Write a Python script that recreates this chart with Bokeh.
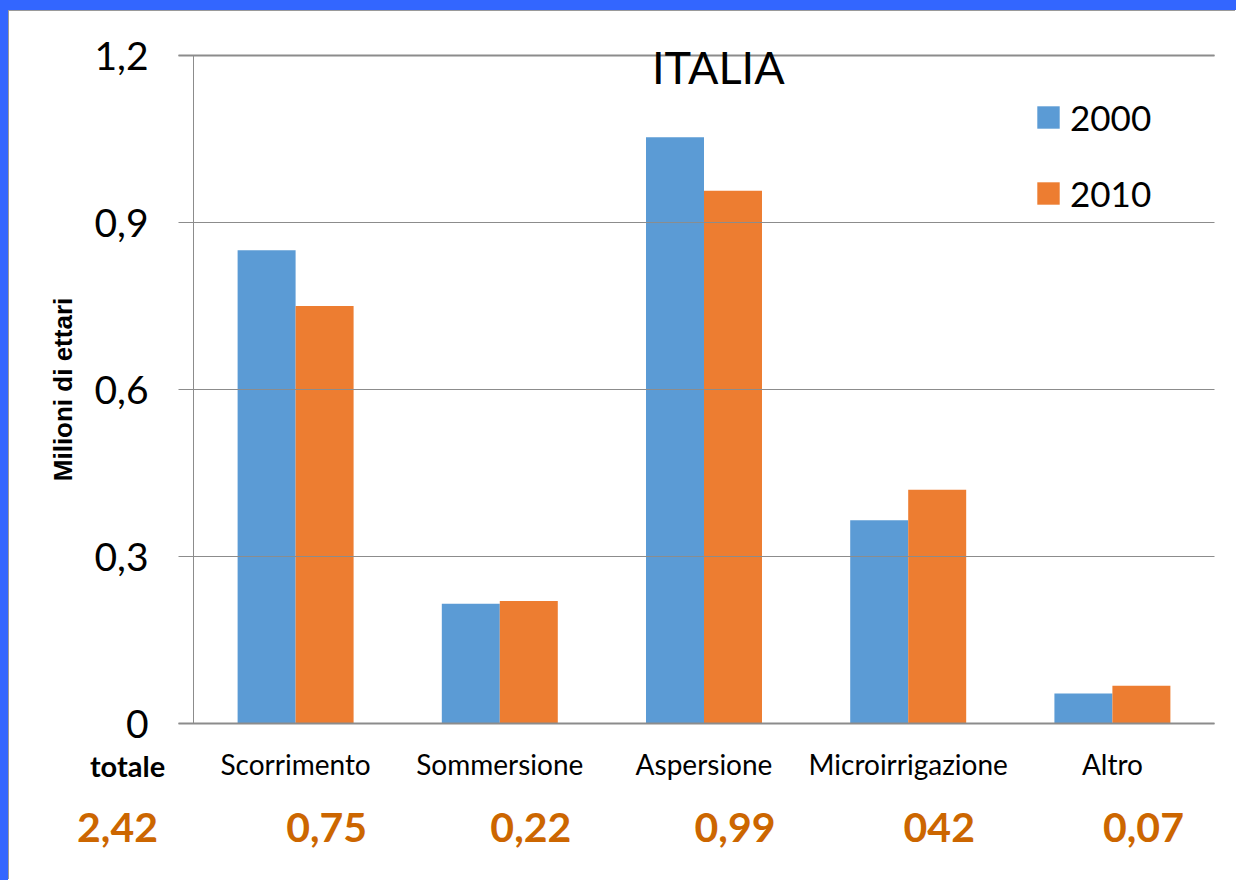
from bokeh.plotting import figure
from bokeh.models import (Range1d, FixedTicker, CustomJSTickFormatter, LinearAxis,
                          Label, Legend, LegendItem, ColumnDataSource)
from bokeh.core.properties import value
from bokeh.layouts import column
from bokeh.embed import file_html
from bokeh.resources import INLINE

# Superficie irrigata per sistema di irrigazione (milioni di ettari)
categories = ["Scorrimento", "Sommersione", "Aspersione", "Microirrigazione", "Altro"]
values_2000 = [0.85, 0.215, 1.053, 0.365, 0.054]
values_2010 = [0.75, 0.22, 0.957, 0.42, 0.068]
series_names = ["2000", "2010"]
y_ticks = [0, 0.3, 0.6, 0.9, 1.2]
totals_caption = "totale"
totals_grand = "2,42"
totals_by_category = ["0,75", "0,22", "0,99", "042", "0,07"]

BLUE = "#5B9BD5"
ORANGE = "#ED7D31"
GRID = "#8C8C8C"
TOTAL_COLOR = "#CC6600"
FONT = "Lato"

# canvas geometry (pixels); the data frame fills the whole canvas and the
# axes are pinned inside it with fixed_location
W, H = 1227, 869
PLOT_LEFT, PLOT_RIGHT = 184, 1205     # x of the category band
PLOT_TOP, PLOT_BASE = 44, 712         # y of 1.2 and of 0
n = len(categories)
cat_px = (PLOT_RIGHT - PLOT_LEFT) / n
y_max = y_ticks[-1]
val_px = (PLOT_BASE - PLOT_TOP) / y_max

x_range = Range1d(-PLOT_LEFT / cat_px, (W - PLOT_LEFT) / cat_px)
y_range = Range1d(-(H - PLOT_BASE) / val_px, PLOT_BASE / val_px)

centers = [i + 0.5 for i in range(n)]
bar_w = 0.284
source = ColumnDataSource(dict(
    x2000=[c - bar_w / 2 for c in centers], x2010=[c + bar_w / 2 for c in centers],
    v2000=values_2000, v2010=values_2010))

p = figure(
    width=W, height=H, x_range=x_range, y_range=y_range,
    output_backend="svg", toolbar_location=None,
    min_border_left=0, min_border_right=0, min_border_top=0, min_border_bottom=0,
    background_fill_color="white", border_fill_color="white",
    x_axis_type=None, y_axis_type=None,
)
p.outline_line_color = None
p.grid.grid_line_color = None

r0 = p.vbar(x="x2000", top="v2000", width=bar_w, source=source,
            fill_color=BLUE, line_color=None)
r1 = p.vbar(x="x2010", top="v2010", width=bar_w, source=source,
            fill_color=ORANGE, line_color=None)

# value axis: its ticks run across the band and serve as gridlines
yaxis = LinearAxis(
    fixed_location=0, bounds=(0, y_max),
    ticker=FixedTicker(ticks=y_ticks),
    formatter=CustomJSTickFormatter(
        code="return tick == 0 ? '0' : tick.toFixed(1).replace('.', ',');"),
    major_label_text_font=FONT, major_label_text_font_size="39px",
    major_label_text_color="black", major_label_standoff=30,
    major_tick_in=int(PLOT_RIGHT - PLOT_LEFT), major_tick_out=15,
    major_tick_line_color=GRID, minor_tick_line_color=None,
    axis_line_color=GRID,
    axis_label="Milioni di ettari", axis_label_text_font="Liberation Sans",
    axis_label_text_font_style="bold", axis_label_text_font_size="26px",
    axis_label_text_color="black", axis_label_standoff=13,
)
p.add_layout(yaxis, "left")

# heavier line along the top of the value scale
top_rule = LinearAxis(
    fixed_location=y_max, bounds=(-15 / cat_px, n),
    ticker=FixedTicker(ticks=[]), major_label_text_font_size="0px",
    major_tick_line_color=None, minor_tick_line_color=None,
    axis_line_color=GRID, axis_line_width=2,
)
p.add_layout(top_rule, "above")

# category axis on the zero line
xaxis = LinearAxis(
    fixed_location=0, bounds=(-15 / cat_px, n),
    ticker=FixedTicker(ticks=centers),
    major_label_overrides={c: name for c, name in zip(centers, categories)},
    major_label_text_font=FONT, major_label_text_font_size="28px",
    major_label_text_color="black", major_label_standoff=17,
    major_tick_line_color=None, minor_tick_line_color=None,
    axis_line_color=GRID, axis_line_width=2,
)
p.add_layout(xaxis, "below")

# title over the top of the plot area
p.add_layout(Label(x=2.57, y=y_max - 11 / val_px, text="ITALIA", text_font=FONT,
                   text_font_size="45px", text_align="center", text_baseline="middle",
                   text_color="black"))

# legend
legend = Legend(items=[LegendItem(label=series_names[0], renderers=[r0]),
                       LegendItem(label=series_names[1], renderers=[r1])],
                location=(1025, 666), orientation="vertical")
legend.border_line_color = None
legend.background_fill_alpha = 0
legend.padding = 0
legend.margin = 0
legend.glyph_width = 28
legend.glyph_height = 28
legend.label_height = 40
legend.spacing = 34
legend.label_standoff = 8
legend.label_text_font = FONT
legend.label_text_font_size = "35px"
legend.label_text_color = "black"
p.add_layout(legend)

# caption and totals row under the axis
row_names = -42 / val_px
row_totals = -104 / val_px
p.text(x=[-0.323], y=[row_names], text=[totals_caption],
       text_font=value(FONT), text_font_style="bold", text_font_size="29px",
       text_color="black", text_align="center", text_baseline="middle")
p.text(x=[-0.372] + [c + 0.152 for c in centers], y=[row_totals] * (n + 1),
       text=[totals_grand] + totals_by_category,
       text_font=value(FONT), text_font_style="bold", text_font_size="41px",
       text_color=TOTAL_COLOR, text_align="center", text_baseline="middle")

p.styles = {"border-left": "1px solid #9a9a9a", "border-top": "1px solid #9a9a9a"}
page = column(p, styles={"background-color": "white",
                         "border-left": "8px solid #3366FF",
                         "border-top": "10px solid #3366FF",
                         "box-sizing": "border-box",
                         "min-width": "1236px", "min-height": "880px"})

open("out.html", "w").write(file_html(page, INLINE))
